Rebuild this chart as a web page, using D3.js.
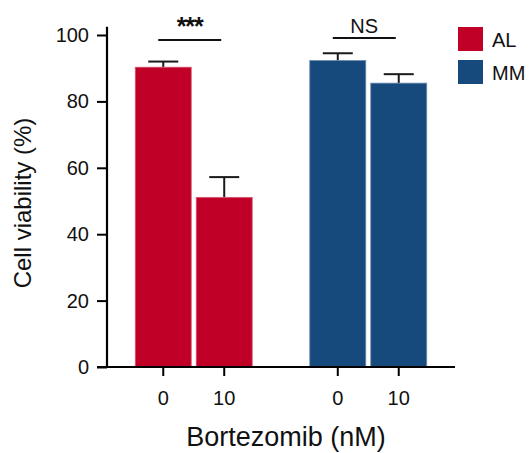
<!DOCTYPE html>
<html>
<head>
<meta charset="utf-8">
<script src="https://cdn.jsdelivr.net/npm/d3@7"></script>
<style>
  html, body { margin: 0; padding: 0; background: #fff; }
  svg { display: block; }
  text { font-family: "Liberation Sans", Arial, Helvetica, sans-serif; fill: #111; }
</style>
</head>
<body>
<svg id="chart" width="531" height="453"></svg>
<script>
// ---- data ----
const groups = ["AL", "MM"];
const doses = ["0", "10"];
const alValues = [90.3, 51.1];
const alErrors = [1.7, 6.1];
const mmValues = [92.3, 85.5];
const mmErrors = [2.2, 2.7];
const yTicks = [0, 20, 40, 60, 80, 100];
const significance = ["***", "NS"];
const groupColors = ["#C10027", "#164A7D"];
const yTitle = "Cell viability (%)";
const xTitle = "Bortezomib (nM)";

const seriesValues = [alValues, mmValues];
const seriesErrors = [alErrors, mmErrors];

const svg = d3.select("#chart");

const x0 = d3.scaleBand().domain(groups).range([107, 455]).paddingInner(0.33).paddingOuter(0.162);
const x1 = d3.scaleBand().domain(doses).range([0, x0.bandwidth()]).paddingInner(0.082);
const y = d3.scaleLinear().domain([0, 100]).range([367, 35]);
const color = d3.scaleOrdinal().domain(groups).range(groupColors);

const rows = [];
groups.forEach((g, gi) => doses.forEach((d, di) => rows.push({
  group: g, dose: d, value: seriesValues[gi][di], err: seriesErrors[gi][di]
})));

// error bars
const eb = svg.append("g").attr("stroke", "#1a1a1a").attr("stroke-width", 2);
rows.forEach(r => {
  const cx = x0(r.group) + x1(r.dose) + x1.bandwidth() / 2;
  eb.append("line").attr("x1", cx).attr("x2", cx).attr("y1", y(r.value)).attr("y2", y(r.value + r.err));
  eb.append("line").attr("x1", cx - 15).attr("x2", cx + 15).attr("y1", y(r.value + r.err)).attr("y2", y(r.value + r.err));
});

// bars
svg.append("g").selectAll("rect").data(rows).join("rect")
  .attr("x", d => x0(d.group) + x1(d.dose))
  .attr("width", x1.bandwidth())
  .attr("y", d => y(d.value))
  .attr("height", d => y(0) - y(d.value))
  .attr("fill", d => color(d.group))
  .attr("stroke", d => d3.interpolateRgb(color(d.group), "#ffffff")(0.35))
  .attr("stroke-width", 0.8);

// y axis
const yAxis = svg.append("g").attr("transform", "translate(107,0)")
  .call(d3.axisLeft(y).tickValues(yTicks).tickSize(10).tickPadding(8));
yAxis.select(".domain").remove();
yAxis.selectAll(".tick line").attr("stroke", "#000").attr("stroke-width", 2);
yAxis.selectAll(".tick text").style("font-size", "20px").attr("fill", "#111")
  .style("font-family", "'Liberation Sans', Arial, sans-serif");
svg.append("line").attr("x1", 107).attr("x2", 107).attr("y1", y(0) + 1).attr("y2", y(102.5))
  .attr("stroke", "#000").attr("stroke-width", 2.2);

// x axis
const xAxisG = svg.append("g").attr("transform", `translate(0,${y(0)})`);
svg.append("line").attr("x1", 97).attr("x2", 455).attr("y1", y(0)).attr("y2", y(0))
  .attr("stroke", "#000").attr("stroke-width", 2.2);
rows.forEach(r => {
  const cx = x0(r.group) + x1(r.dose) + x1.bandwidth() / 2;
  xAxisG.append("line").attr("x1", cx).attr("x2", cx).attr("y1", 0).attr("y2", 9)
    .attr("stroke", "#000").attr("stroke-width", 2);
  xAxisG.append("text").attr("x", cx).attr("y", 38).attr("text-anchor", "middle")
    .style("font-size", "20px").text(r.dose);
});

// titles
svg.append("text").attr("x", 286).attr("y", 446).attr("text-anchor", "middle")
  .style("font-size", "27px").text(xTitle);
svg.append("text").attr("transform", "translate(31,203) rotate(-90)").attr("text-anchor", "middle")
  .style("font-size", "24px").text(yTitle);

// significance
groups.forEach((g, gi) => {
  const a = x0(g) + x1(doses[0]) + x1.bandwidth() / 2;
  const b = x0(g) + x1(doses[1]) + x1.bandwidth() / 2;
  const ly = gi === 0 ? 40 : 38;
  svg.append("line").attr("x1", a - 5).attr("x2", b - 3).attr("y1", ly).attr("y2", ly)
    .attr("stroke", "#111").attr("stroke-width", 1.8);
  const t = svg.append("text").attr("x", (a + b) / 2 - 4).attr("text-anchor", "middle").text(significance[gi]);
  if (gi === 0) {
    t.attr("y", 35).style("font-size", "25px").style("font-weight", "bold").style("letter-spacing", "-1px");
  } else {
    t.attr("y", 33).style("font-size", "20px");
  }
});

// legend
groups.forEach((g, i) => {
  const ly = 27 + i * 33;
  svg.append("rect").attr("x", 458).attr("y", ly).attr("width", 25).attr("height", 24)
    .attr("fill", color(g));
  svg.append("text").attr("x", 492).attr("y", ly + 20).style("font-size", "20px").text(g);
});
</script>
</body>
</html>
